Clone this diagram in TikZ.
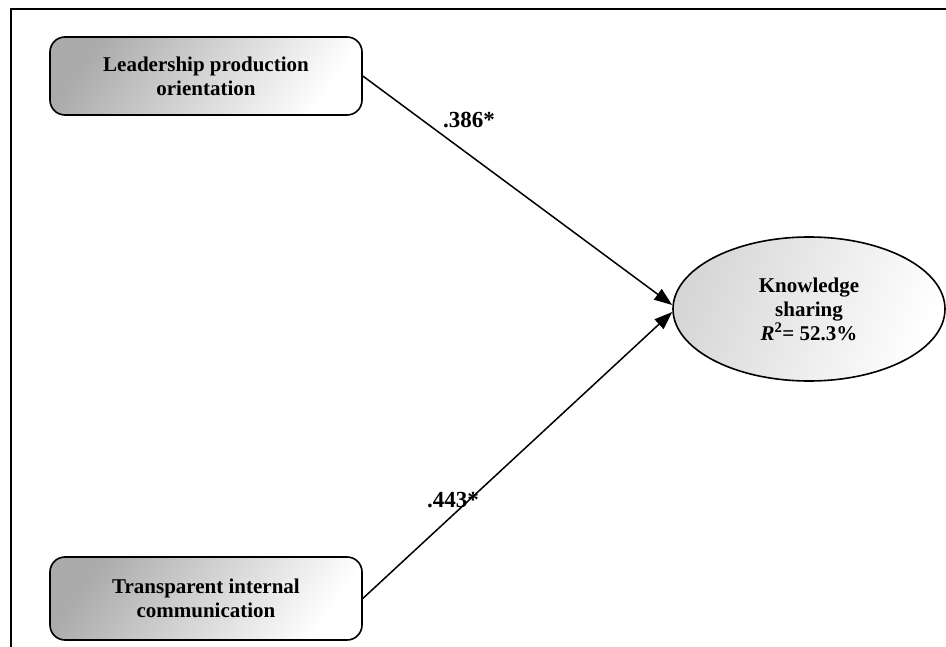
\documentclass[tikz,border=0pt]{standalone}
\usepackage{fontspec}
\setmainfont{Liberation Serif}
\usetikzlibrary{arrows.meta,calc,shapes.geometric}
\tikzset{
  lbl/.style={font=\fontsize{21}{24}\selectfont\bfseries, align=center, inner sep=0pt},
  varbox/.style={lbl, draw=black, line width=1.6pt, rounded corners=15pt,
    minimum width=312pt, left color=black!33, right color=white, shading angle=55},
  depell/.style={lbl, ellipse, draw=black, line width=1.6pt,
    minimum width=272pt, minimum height=144pt, left color=black!16, right color=white, shading angle=70},
  path/.style={line width=1.5pt, -{Triangle[length=18pt,width=13pt]}},
  coef/.style={font=\fontsize{23}{24}\selectfont\bfseries, inner sep=0pt},
  frame/.style={line width=2pt}
}
\begin{document}
\begin{tikzpicture}[x=1pt,y=-1pt]
\useasboundingbox (0,0) rectangle (946,647);
\coordinate (fright) at (946,9);
\coordinate (fbot) at (11,647);
\draw[frame] (fright) -- (11,9) -- (fbot);
\node[varbox, minimum height=78pt] (lpo) at (206,76) {Leadership production\\orientation};
\node[varbox, minimum height=83pt] (tic) at (206,598.5) {Transparent internal\\communication};
\node[depell] (ks) at (809,309) {Knowledge\\sharing\\\textit{R}\textsuperscript{2}= 52.3\%};
\coordinate (t1) at ($(ks.west)+(0,-4)$);
\coordinate (t2) at ($(ks.west)+(0,3)$);
\draw[path] (lpo.east) -- (t1);
\draw[path] (tic.east) -- (t2);
\node[coef] (c1) at (469,120) {.386*};
\node[coef] (c2) at (453,500) {.443*};
\end{tikzpicture}
\end{document}
